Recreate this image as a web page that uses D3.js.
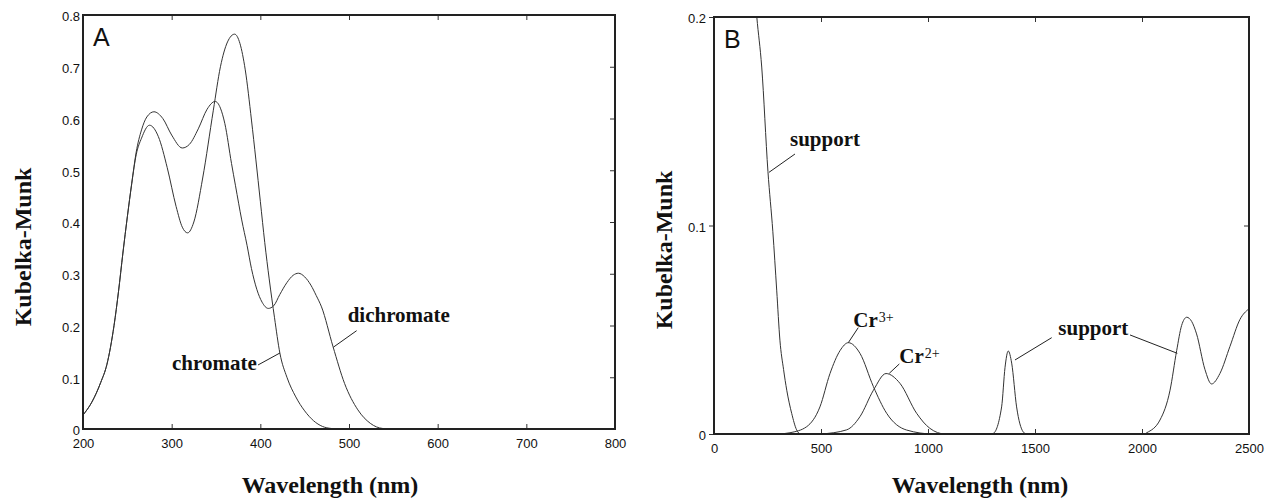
<!DOCTYPE html>
<html>
<head>
<meta charset="utf-8">
<script src="https://cdn.jsdelivr.net/npm/d3@7"></script>
<style>
  body { margin: 0; background: #fff; }
  .title { font-family: "Liberation Serif", "Times New Roman", serif; font-weight: bold; font-size: 24px; fill: #111; }
  .note { font-family: "Liberation Serif", "Times New Roman", serif; font-weight: bold; font-size: 21px; fill: #111; }
  .letter { font-family: "Liberation Sans", Arial, sans-serif; font-size: 25px; fill: #111; }
  .curve { fill: none; stroke: #333; stroke-width: 1; }
  .frame { fill: none; stroke: #222; stroke-width: 2; }
</style>
</head>
<body>
<div id="chart"></div>
<script>
// panel A: wavelength (nm) vs Kubelka-Munk
const chromate = [
    [200, 0.027], [210, 0.052], [220, 0.09], [227, 0.125], [235, 0.2], [240, 0.265],
    [245, 0.34], [250, 0.41], [255, 0.475], [260, 0.53], [266, 0.562], [275, 0.587],
    [285, 0.565], [295, 0.505], [305, 0.43], [312, 0.39], [318, 0.379], [325, 0.40],
    [335, 0.485], [347, 0.616], [355, 0.70], [363, 0.748], [371, 0.763], [377, 0.745],
    [383, 0.694], [390, 0.597], [395, 0.52], [400, 0.44], [405, 0.36], [410, 0.29],
    [416, 0.215], [422, 0.147], [430, 0.100], [440, 0.062], [450, 0.035], [460, 0.016],
    [470, 0.005], [480, 0.001], [490, 0], [800, 0]
];
const dichromate = [
    [200, 0.027], [210, 0.052], [220, 0.09], [227, 0.125], [235, 0.2], [240, 0.265],
    [245, 0.34], [250, 0.41], [255, 0.475], [260, 0.535], [266, 0.578], [272, 0.603],
    [280, 0.613], [290, 0.6], [300, 0.568], [312, 0.543], [320, 0.55], [330, 0.58],
    [340, 0.618], [349, 0.633], [355, 0.62], [360, 0.59], [367.5, 0.513], [372, 0.47],
    [379, 0.404], [385, 0.355], [390, 0.31], [396, 0.27], [402, 0.245], [409, 0.233],
    [415, 0.238], [422, 0.26], [430, 0.283], [437, 0.297], [443, 0.301], [450, 0.294],
    [457, 0.278], [463, 0.258], [469, 0.236], [482, 0.159], [495, 0.088], [510, 0.037],
    [524, 0.011], [538, 0.001], [550, 0], [800, 0]
];

// panel B
const support = [
    [190, 0.212], [200, 0.2], [223, 0.176], [252, 0.126], [275, 0.097], [293, 0.069],
    [308, 0.045], [325, 0.031], [340, 0.021], [363, 0.0099], [386, 0.002], [405, 0],
    [1290, 0], [1305, 0.0003], [1344, 0.013], [1360, 0.032], [1375, 0.0398], [1391, 0.034],
    [1414, 0.013], [1445, 0.001], [1460, 0], [2010, 0], [2022, 0.0006], [2084, 0.0067],
    [2131, 0.021], [2162, 0.040], [2185, 0.052], [2209, 0.056], [2232, 0.054], [2255, 0.048],
    [2294, 0.031], [2325, 0.024], [2364, 0.029], [2411, 0.042], [2458, 0.055], [2499, 0.060]
];
const cr3 = [
    [300, 0], [355, 0.0006], [433, 0.0035], [495, 0.013], [542, 0.029], [589, 0.040],
    [628, 0.0438], [682, 0.0387], [745, 0.0227], [807, 0.0099], [900, 0.0019], [1025, 0], [2500, 0]
];
const cr2 = [
    [500, 0], [620, 0.002], [682, 0.0083], [745, 0.021], [804, 0.029], [869, 0.0243],
    [947, 0.0099], [1009, 0.0027], [1080, 0], [2500, 0]
];

const ticksA_x = [200, 300, 400, 500, 600, 700, 800];
const ticksA_y = [0, 0.1, 0.2, 0.3, 0.4, 0.5, 0.6, 0.7, 0.8];
const ticksB_x = [0, 500, 1000, 1500, 2000, 2500];
const ticksB_y = [0, 0.1, 0.2];

const W = 1266, H = 499;
const svg = d3.select("#chart").append("svg").attr("width", W).attr("height", H);
svg.append("rect").attr("width", W).attr("height", H).attr("fill", "#fff");

const fmtY = d => d === 0 ? "0" : d3.format(".1f")(d);
const sans = "'Liberation Sans', Arial, sans-serif";

function drawPanel(p) {
    const x = d3.scaleLinear().domain(p.xDomain).range([p.left, p.right]);
    const y = d3.scaleLinear().domain(p.yDomain).range([p.bottom, p.top]);
    const g = svg.append("g");

    g.append("clipPath").attr("id", "clip" + p.name)
        .append("rect").attr("x", p.left).attr("y", p.top)
        .attr("width", p.right - p.left).attr("height", p.bottom - p.top);

    const line = d3.line().x(d => x(d[0])).y(d => y(d[1])).curve(d3.curveMonotoneX);
    g.append("g").attr("clip-path", "url(#clip" + p.name + ")")
        .selectAll("path").data(p.series).enter().append("path")
        .attr("class", "curve").attr("d", line);

    // axes: labels bottom/left, inward ticks top/right/bottom
    g.append("g").attr("transform", `translate(0,${p.bottom})`)
        .call(d3.axisBottom(x).tickValues(p.xTicks).tickSize(-5).tickPadding(10).tickFormat(d3.format("d")))
        .call(a => a.select(".domain").remove());
    g.append("g").attr("transform", `translate(0,${p.top})`)
        .call(d3.axisTop(x).tickValues(p.xTicks).tickSize(-5).tickFormat(""))
        .call(a => a.select(".domain").remove());
    g.append("g").attr("transform", `translate(${p.left},0)`)
        .call(d3.axisLeft(y).tickValues(p.yTicks).tickSize(p.leftTick).tickPadding(3).tickFormat(fmtY))
        .call(a => a.select(".domain").remove())
        .call(a => a.selectAll(".tick text").attr("dy", "0.45em"));
    g.append("g").attr("transform", `translate(${p.right},0)`)
        .call(d3.axisRight(y).tickValues(p.yTicks).tickSize(-5).tickFormat(""))
        .call(a => a.select(".domain").remove());
    g.selectAll(".tick line").attr("stroke", "#333");
    g.selectAll(".tick text").attr("font-size", 13).attr("font-family", sans).attr("fill", "#111");

    g.append("rect").attr("class", "frame")
        .attr("x", p.left).attr("y", p.top)
        .attr("width", p.right - p.left).attr("height", p.bottom - p.top);

    g.append("text").attr("class", "letter")
        .attr("x", p.left + 10).attr("y", p.top + 31).text(p.name);

    g.append("text").attr("class", "title")
        .attr("transform", `translate(${p.yTitleX},${p.yTitleY}) rotate(-90)`)
        .attr("text-anchor", "middle").text("Kubelka-Munk");
    g.append("text").attr("class", "title")
        .attr("x", p.xTitleX).attr("y", 493)
        .attr("text-anchor", "middle").text("Wavelength (nm)");

    p.notes.forEach(n => {
        const t = g.append("text").attr("class", "note").attr("x", x(n.at[0])).attr("y", y(n.at[1]));
        t.append("tspan").text(n.text);
        if (n.sup) t.append("tspan").attr("dy", -5).attr("dx", 1)
            .style("font-size", "14px").style("font-weight", "normal").text(n.sup);
        n.leaders.forEach(l => {
            g.append("line").attr("stroke", "#222").attr("stroke-width", 1)
                .attr("x1", x(l[0][0])).attr("y1", y(l[0][1]))
                .attr("x2", x(l[1][0])).attr("y2", y(l[1][1]));
        });
    });
}

drawPanel({
    name: "A", left: 83, right: 615, top: 15, bottom: 429,
    xDomain: [200, 800], yDomain: [0, 0.8], xTicks: ticksA_x, yTicks: ticksA_y, leftTick: 0,
    series: [chromate, dichromate],
    yTitleX: 31, yTitleY: 247, xTitleX: 330,
    notes: [
        { text: "chromate", at: [300.4, 0.114], leaders: [[[397.4, 0.1237], [422.2, 0.147]]] },
        { text: "dichromate", at: [498.5, 0.2068], leaders: [[[508.6, 0.19], [482.3, 0.158]]] }
    ]
});

drawPanel({
    name: "B", left: 714, right: 1249, top: 17, bottom: 434,
    xDomain: [0, 2500], yDomain: [0, 0.2], xTicks: ticksB_x, yTicks: ticksB_y, leftTick: 5,
    series: [support, cr3, cr2],
    yTitleX: 672, yTitleY: 250, xTitleX: 980,
    notes: [
        { text: "support", at: [355, 0.1379], leaders: [[[378.5, 0.1343], [257, 0.1255]]] },
        { text: "Cr", sup: "3+", at: [651, 0.0513], leaders: [[[674, 0.051], [627.6, 0.0438]]] },
        { text: "Cr", sup: "2+", at: [866, 0.034], leaders: [[[866, 0.0336], [819, 0.0291]]] },
        { text: "support", at: [1609, 0.0475],
          leaders: [[[1578, 0.0462], [1406.5, 0.0355]], [[1944, 0.0475], [2165, 0.0387]]] }
    ]
});
</script>
</body>
</html>
